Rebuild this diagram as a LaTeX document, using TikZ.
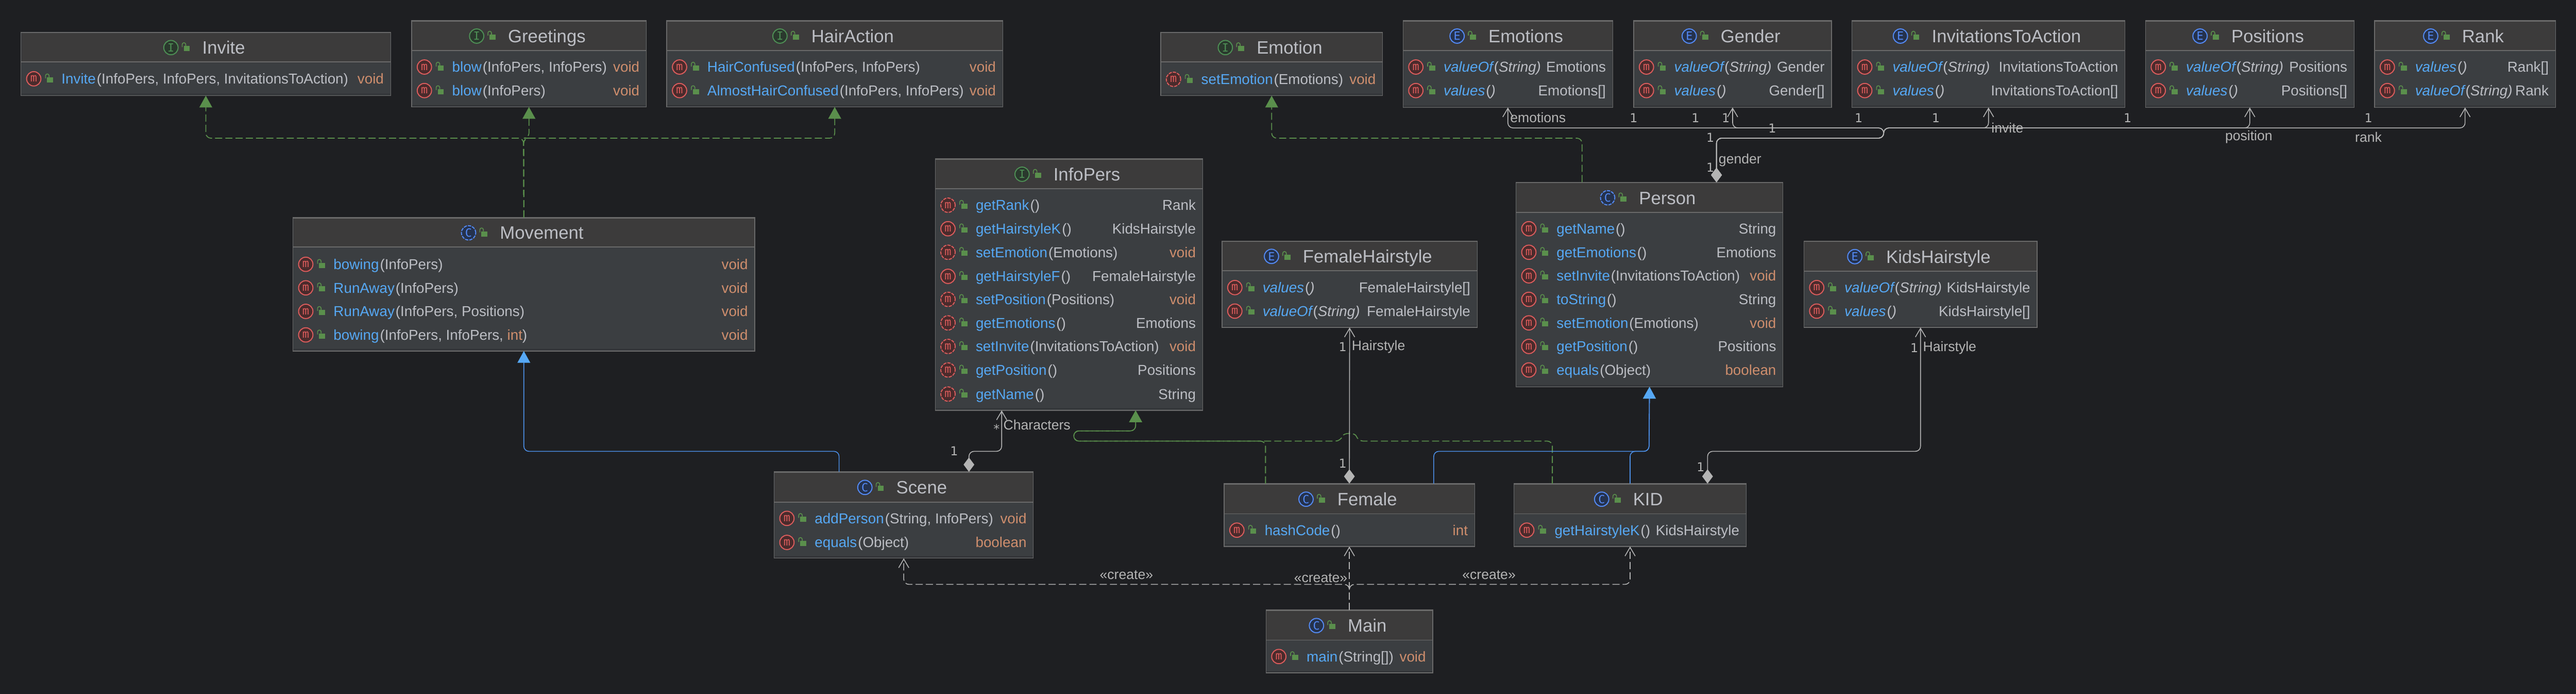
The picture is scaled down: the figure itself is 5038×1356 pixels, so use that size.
\documentclass[tikz,border=0pt]{standalone}
\usepackage{fontspec}
\setmainfont{Liberation Sans}
\newfontfamily\iconfont{DejaVu Sans Mono}
\newfontfamily\numfont{DejaVu Sans}
\usetikzlibrary{arrows.meta,calc}
\definecolor{bgc}{HTML}{1E1F22}
\definecolor{headc}{HTML}{3C3B3B}
\definecolor{bodyc}{HTML}{3B3E41}
\definecolor{edgec}{HTML}{6A6A6A}
\definecolor{txtc}{HTML}{BCBEC4}
\definecolor{namec}{HTML}{56A8F5}
\definecolor{kwc}{HTML}{CF8E6D}
\definecolor{greenc}{HTML}{5A8F4C}
\definecolor{bluec}{HTML}{4C8FE8}
\definecolor{iblue}{HTML}{548AF7}
\definecolor{redc}{HTML}{DB5C5C}
\definecolor{redf}{HTML}{4A2B2C}
\definecolor{gic}{HTML}{4E8F55}
\definecolor{gif}{HTML}{2A392D}
\definecolor{bif}{HTML}{25324D}
\definecolor{linec}{HTML}{B4B4B4}
\newcommand\kw{\color{kwc}}
\newcount\rowcnt
\tikzset{
  x=0.5pt,y=-0.5pt,
  boxbody/.style={draw=edgec,fill=bodyc,line width=0.7pt,inner sep=0pt,outer sep=0pt},
  ttl/.style={anchor=base,text=txtc,font=\fontsize{17.5}{17.5}\selectfont,inner sep=0pt},
  rowl/.style={anchor=base west,text=txtc,font=\fontsize{14}{14}\selectfont,inner sep=0pt},
  rowr/.style={anchor=base east,text=txtc,font=\fontsize{14}{14}\selectfont,inner sep=0pt},
  lbl/.style={text=linec,font=\fontsize{13.4}{13.4}\selectfont,inner sep=0pt},
  num/.style={text=linec,font=\numfont\fontsize{12}{12}\selectfont,inner sep=0pt},
  ico/.style={circle,minimum size=14pt,inner sep=0pt,line width=1pt,font=\iconfont\fontsize{11}{11}\selectfont},
  icoM/.style={ico,draw=redc,fill=redf,text=redc},
  icoMa/.style={icoM,dash pattern=on 3.2pt off 1pt},
  icoI/.style={ico,draw=gic,fill=gif,text=gic},
  icoE/.style={ico,draw=iblue,fill=bif,text=iblue},
  icoC/.style={ico,draw=iblue,fill=bif,text=iblue},
  icoCa/.style={icoC,dash pattern=on 3.2pt off 1pt},
  wire/.style={line width=0.8pt,rounded corners=5pt},
  assoc/.style={wire,draw=linec,{Diamond[length=14pt,width=10.5pt,fill=linec,color=linec]}-{Straight Barb[length=8.5pt,width=10pt,color=linec]}},
  depend/.style={wire,draw=linec,dash pattern=on 7pt off 3pt,-{Straight Barb[length=8.5pt,width=10pt,color=linec,sep=0pt]}},
  impl/.style={wire,draw=greenc,line width=0.9pt,dash pattern=on 7pt off 3pt,-{Triangle[length=11.5pt,width=12.5pt,color=greenc]}},
  ext/.style={wire,draw=bluec,-{Triangle[length=11.5pt,width=12.5pt,color=namec]}},
  lockicon/.pic={
    \fill[greenc] (3,-3) rectangle (15,7);
    \draw[greenc,line width=0.8pt] (0,-1) -- (0,-6) arc[start angle=180,end angle=360,radius=3.5] -- (7,-3);
  }
}
% name x1 y1 x2 y2 ydiv iconstyle letter title
\newcommand\umlbox[9]{%
  \pgfmathsetmacro\bw{(#4-#2)*0.5}%
  \pgfmathsetmacro\bh{(#5-#3)*0.5}%
  \pgfmathsetmacro\cx{(#2+#4)/2}%
  \pgfmathsetmacro\cy{(#3+#5)/2}%
  \pgfmathsetmacro\my{(#3+#6)/2+1}%
  \node[boxbody,minimum width=\bw pt,minimum height=\bh pt] (#1) at (\cx,\cy) {};
  \fill[headc] (#2+1,#3+1) rectangle (#4-1,#6);
  \draw[edgec,line width=0.9pt] (#2,#3+1) -- (#4,#3+1);
  \draw[edgec,line width=0.9pt] (#2,#6) -- (#4,#6);
  \draw[bgc!60!bodyc,line width=0.5pt] (#2+1,#5-3) -- (#4-1,#5-3);
  \pgfmathsetmacro\tx{\cx+35}%
  \pgfmathsetmacro\ty{\my+12.5}%
  \node[ttl] (#1T) at (\tx,\ty) {#9};
  \node[#7] (#1I) at ($(#1T.base west)+(-61,-12.5)$) {#8};
  \pic at ($(#1T.base west)+(-39,-12.5)$) {lockicon};
}
% x1 x2 y iconstyle name args ret
\newcommand\mrow[7]{%
  \global\advance\rowcnt by 1
  \node[#4] (ri\the\rowcnt) at (#1+25,#3) {m};
  \pic at (#1+48,#3) {lockicon};
  \node[rowl] (rl\the\rowcnt) at (#1+79,#3+10) {\textcolor{namec}{#5}\hspace{1pt}(#6)};
  \node[rowr] (rr\the\rowcnt) at (#2-13,#3+10) {#7};
}
\newcommand\irow[7]{\mrow{#1}{#2}{#3}{#4}{\itshape #5}{\itshape #6}{#7}}
\begin{document}
\begin{tikzpicture}
\useasboundingbox (0,0) rectangle (5038,1356);
\fill[bgc] (0,0) rectangle (5038,1356);

% ---- boxes
\umlbox{Invite}{41}{63}{764}{187}{121}{icoI}{I}{Invite}
\mrow{41}{764}{154}{icoM}{Invite}{InfoPers, InfoPers, InvitationsToAction}{\kw void}

\umlbox{Greetings}{805}{40}{1264}{209}{99}{icoI}{I}{Greetings}
\mrow{805}{1264}{131}{icoM}{blow}{InfoPers, InfoPers}{\kw void}
\mrow{805}{1264}{177}{icoM}{blow}{InfoPers}{\kw void}

\umlbox{HairAction}{1304}{40}{1961}{209}{99}{icoI}{I}{HairAction}
\mrow{1304}{1961}{131}{icoM}{HairConfused}{InfoPers, InfoPers}{\kw void}
\mrow{1304}{1961}{177}{icoM}{AlmostHairConfused}{InfoPers, InfoPers}{\kw void}

\umlbox{Movement}{573}{425}{1476}{686}{483}{icoCa}{C}{Movement}
\mrow{573}{1476}{516.5}{icoM}{bowing}{InfoPers}{\kw void}
\mrow{573}{1476}{562.5}{icoM}{RunAway}{InfoPers}{\kw void}
\mrow{573}{1476}{608.5}{icoM}{RunAway}{InfoPers, Positions}{\kw void}
\mrow{573}{1476}{654.5}{icoM}{bowing}{InfoPers, InfoPers, {\kw int}}{\kw void}

\umlbox{Emotion}{2270}{63}{2704}{187}{121}{icoI}{I}{Emotion}
\mrow{2270}{2704}{155}{icoMa}{setEmotion}{Emotions}{\kw void}

\umlbox{Emotions}{2744}{40}{3154}{210}{99}{icoE}{E}{Emotions}
\irow{2744}{3154}{131}{icoM}{valueOf}{String}{Emotions}
\irow{2744}{3154}{177}{icoM}{values}{}{Emotions[]}

\umlbox{Gender}{3195}{40}{3582}{210}{99}{icoE}{E}{Gender}
\irow{3195}{3582}{131}{icoM}{valueOf}{String}{Gender}
\irow{3195}{3582}{177}{icoM}{values}{}{Gender[]}

\umlbox{Invitations}{3622}{40}{4156}{210}{99}{icoE}{E}{InvitationsToAction}
\irow{3622}{4156}{131}{icoM}{valueOf}{String}{InvitationsToAction}
\irow{3622}{4156}{177}{icoM}{values}{}{InvitationsToAction[]}

\umlbox{Positions}{4196}{40}{4604}{210}{99}{icoE}{E}{Positions}
\irow{4196}{4604}{131}{icoM}{valueOf}{String}{Positions}
\irow{4196}{4604}{177}{icoM}{values}{}{Positions[]}

\umlbox{Rank}{4644}{40}{4998}{210}{99}{icoE}{E}{Rank}
\irow{4644}{4998}{131}{icoM}{values}{}{Rank[]}
\irow{4644}{4998}{177}{icoM}{valueOf}{String}{Rank}

\umlbox{InfoPers}{1829}{310}{2352}{802}{369}{icoI}{I}{InfoPers}
\mrow{1829}{2352}{401}{icoMa}{getRank}{}{Rank}
\mrow{1829}{2352}{447}{icoM}{getHairstyleK}{}{KidsHairstyle}
\mrow{1829}{2352}{493}{icoMa}{setEmotion}{Emotions}{\kw void}
\mrow{1829}{2352}{540}{icoM}{getHairstyleF}{}{FemaleHairstyle}
\mrow{1829}{2352}{585}{icoMa}{setPosition}{Positions}{\kw void}
\mrow{1829}{2352}{631}{icoMa}{getEmotions}{}{Emotions}
\mrow{1829}{2352}{677}{icoMa}{setInvite}{InvitationsToAction}{\kw void}
\mrow{1829}{2352}{723}{icoMa}{getPosition}{}{Positions}
\mrow{1829}{2352}{770}{icoMa}{getName}{}{String}

\umlbox{FemaleHairstyle}{2390}{471}{2889}{640}{529}{icoE}{E}{FemaleHairstyle}
\irow{2390}{2889}{562}{icoM}{values}{}{FemaleHairstyle[]}
\irow{2390}{2889}{608}{icoM}{valueOf}{String}{FemaleHairstyle}

\umlbox{Person}{2965}{356}{3487}{756}{415}{icoCa}{C}{Person}
\mrow{2965}{3487}{447}{icoM}{getName}{}{String}
\mrow{2965}{3487}{493}{icoM}{getEmotions}{}{Emotions}
\mrow{2965}{3487}{539}{icoM}{setInvite}{InvitationsToAction}{\kw void}
\mrow{2965}{3487}{585}{icoM}{toString}{}{String}
\mrow{2965}{3487}{631}{icoM}{setEmotion}{Emotions}{\kw void}
\mrow{2965}{3487}{677}{icoM}{getPosition}{}{Positions}
\mrow{2965}{3487}{723}{icoM}{equals}{Object}{\kw boolean}

\umlbox{KidsHairstyle}{3528}{471}{3984}{640}{530}{icoE}{E}{KidsHairstyle}
\irow{3528}{3984}{562}{icoM}{valueOf}{String}{KidsHairstyle}
\irow{3528}{3984}{608}{icoM}{values}{}{KidsHairstyle[]}

\umlbox{Scene}{1514}{922}{2021}{1091}{981}{icoC}{C}{Scene}
\mrow{1514}{2021}{1013}{icoM}{addPerson}{String, InfoPers}{\kw void}
\mrow{1514}{2021}{1060}{icoM}{equals}{Object}{\kw boolean}

\umlbox{Female}{2394}{945}{2884}{1068}{1004}{icoC}{C}{Female}
\mrow{2394}{2884}{1036}{icoM}{hashCode}{}{\kw int}

\umlbox{KID}{2961}{945}{3415}{1068}{1004}{icoC}{C}{KID}
\mrow{2961}{3415}{1036}{icoM}{getHairstyleK}{}{KidsHairstyle}

\umlbox{Main}{2476}{1192}{2802}{1315}{1251}{icoC}{C}{Main}
\mrow{2476}{2802}{1283}{icoM}{main}{String[]}{\kw void}

% ---- connector points
\coordinate (hubTop) at (1024,270);
\coordinate (personImpl) at (3094,356);
\coordinate (personDia) at (3357,356);
\coordinate (hubA) at (3357,270);
\coordinate (hubB) at (3684,270);
\coordinate (hubC) at (3684,250);
\coordinate (charIn) at (1959,802);
\coordinate (sceneDia) at (1895,922);
\coordinate (sceneBend) at (1895,882);
\coordinate (sceneExt) at (1641,922);
\coordinate (femaleExt) at (2804,945);
\coordinate (femaleImpl) at (2475,945);
\coordinate (kidImpl) at (3036,945);
\coordinate (kidDia) at (3339.5,945);
\coordinate (extRow) at (3225,882);
\coordinate (implIn) at (2221,802);
\coordinate (loopA) at (2100,862);
\coordinate (loopB) at (2100,842);
\coordinate (jumpR) at (2656,862);
\coordinate (jumpCa) at (2650,845);
\coordinate (jumpCb) at (2628,845);
\coordinate (jumpL) at (2622,862);
\coordinate (createHub) at (2639,1142);

% ---- implements
\draw[impl] (Movement.north) -- (hubTop) -| (Invite.south);
\draw[impl] (Movement.north) -- (hubTop) -| (Greetings.south);
\draw[impl] (Movement.north) -- (hubTop) -| (HairAction.south);
\draw[impl] (personImpl) -- (personImpl |- hubTop) -| (Emotion.south);
\draw[impl] (femaleImpl) |- (loopA) -- (loopB) -| (implIn);
\draw[impl] (kidImpl) |- (jumpR) .. controls (jumpCa) and (jumpCb) .. (jumpL) -- (loopA) -- (loopB) -| (implIn);

% ---- extends
\draw[ext] (sceneExt) |- (Movement.south |- sceneBend) -- (Movement.south);
\draw[ext] (femaleExt) |- (extRow) -- (Person.south);
\draw[ext] (KID.north) |- (extRow) -- (Person.south);

% ---- associations
\draw[assoc] (personDia) -- (hubA) -- (hubB) -- (hubC) -| (Emotions.south);
\draw[assoc] (personDia) -- (hubA) -- (hubB) -- (hubC) -| (Gender.south);
\draw[assoc] (personDia) -- (hubA) -- (hubB) -- (hubC) -| (Invitations.south);
\draw[assoc] (personDia) -- (hubA) -- (hubB) -- (hubC) -| (Positions.south);
\draw[assoc] (personDia) -- (hubA) -- (hubB) -- (hubC) -| (Rank.south);
\draw[assoc] (sceneDia) -- (sceneBend) -| (charIn);
\draw[assoc] (Female.north) -- (FemaleHairstyle.south);
\draw[assoc] (kidDia) |- (sceneBend -| KidsHairstyle.south) -- (KidsHairstyle.south);

% ---- create
\draw[depend] (Main.north) -- (Female.south);
\draw[depend] (Main.north) -- (createHub) -| (Scene.south);
\draw[depend] (Main.north) -- (createHub) -| (KID.south);

% ---- labels
\node[lbl] (lEmotions) at (3008,230) {emotions};
\node[num] (l1a) at (3195,231) {1};
\node[num] (l1b) at (3316,231) {1};
\node[num] (l1c) at (3375,231) {1};
\node[num] (l1d) at (3635,231) {1};
\node[num] (l1e) at (3786,231) {1};
\node[num] (l1f) at (4161,231) {1};
\node[num] (l1g) at (4632,231) {1};
\node[num] (l1h) at (3466,251) {1};
\node[num] (l1i) at (3345,269) {1};
\node[num] (l1j) at (3345,327) {1};
\node[lbl] (lGender) at (3403,313) {gender};
\node[lbl] (lInvite) at (3926,250) {invite};
\node[lbl] (lPosition) at (4398,268) {position};
\node[lbl] (lRank) at (4632,268) {rank};
\node[lbl] (lChar) at (2028,830) {Characters};
\node[num] (lStar) at (1949,838) {*};
\node[num] (l1k) at (1866,881) {1};
\node[num] (l1l) at (2626,678) {1};
\node[lbl] (lHairF) at (2696,678) {Hairstyle};
\node[num] (l1m) at (2626,906) {1};
\node[num] (l1n) at (3744,680) {1};
\node[lbl] (lHairK) at (3813,680) {Hairstyle};
\node[num] (l1o) at (3326,913) {1};
\node[lbl] (lc1) at (2203,1123) {«create»};
\node[lbl] (lc2) at (2583,1130) {«create»};
\node[lbl] (lc3) at (2912,1123) {«create»};
\end{tikzpicture}
\end{document}
